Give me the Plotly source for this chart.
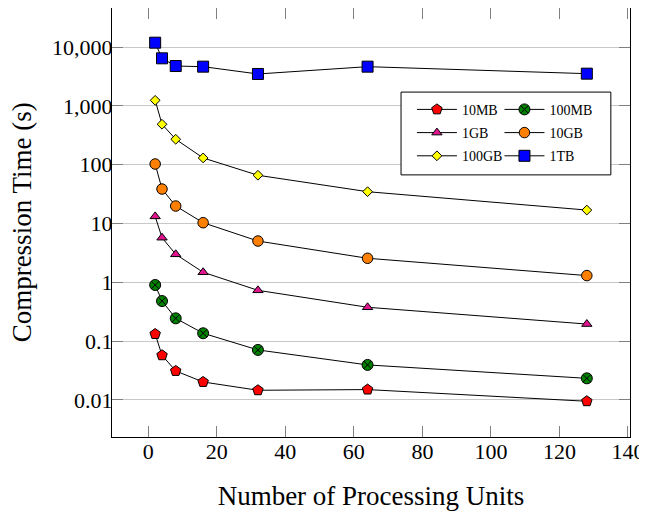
import plotly.graph_objects as go

units = [2, 4, 8, 16, 32, 64, 128]
t_10mb = [0.132, 0.0574, 0.0311, 0.0202, 0.0146, 0.0150, 0.0095]
t_100mb = [0.90, 0.48, 0.244, 0.136, 0.0708, 0.0394, 0.0233]
t_1gb = [13.2, 5.73, 2.99, 1.48, 0.73, 0.376, 0.195]
t_10gb = [102.6, 38.5, 19.8, 10.3, 5.03, 2.56, 1.30]
t_100gb = [1240, 486, 270, 130, 66, 34.7, 16.9]
t_1tb = [11840, 6420, 4750, 4630, 3480, 4630, 3520]

y_tickvals = [0.01, 0.1, 1, 10, 100, 1000, 10000]
y_ticktext = ["0.01", "0.1", "1", "10", "100", "1,000", "10,000"]
x_tickvals = [0, 20, 40, 60, 80, 100, 120, 140]

series = [
    ("10MB", t_10mb, "pentagon", "#ff0000", 11, "legend"),
    ("100MB", t_100mb, "circle-x", "#008000", 11, "legend2"),
    ("1GB", t_1gb, "triangle-up", "#e0148c", 9, "legend"),
    ("10GB", t_10gb, "circle", "#ff8000", 10.5, "legend2"),
    ("100GB", t_100gb, "diamond", "#ffff00", 7.5, "legend"),
    ("1TB", t_1tb, "square", "#0000ff", 11, "legend2"),
]

fig = go.Figure()
for name, vals, sym, col, sz, lg in series:
    fig.add_trace(go.Scatter(
        x=units, y=vals, name=name, mode="lines+markers",
        line=dict(color="black", width=1),
        marker=dict(symbol=sym, color=col, size=sz,
                    line=dict(color="black", width=1)),
        legend=lg, legendgroup=name,
    ))

font_family = "Liberation Serif, Times New Roman, serif"
leg_common = dict(
    orientation="v", yanchor="top", xanchor="left",
    bgcolor="rgba(0,0,0,0)", borderwidth=0,
    font=dict(size=14, family=font_family),
    itemwidth=40, tracegroupgap=2,
)
fig.update_layout(
    width=639, height=504,
    margin=dict(l=104, r=17, t=0, b=75),
    paper_bgcolor="white", plot_bgcolor="white",
    font=dict(family=font_family, color="black", size=22),
    showlegend=True,
    legend=dict(x=0.579, y=0.800, **leg_common),
    legend2=dict(x=0.748, y=0.800, **leg_common),
    shapes=[dict(type="rect", xref="paper", yref="paper",
                 x0=0.558, x1=0.963, y0=0.611, y1=0.804,
                 line=dict(color="black", width=1),
                 fillcolor="white", layer="above")],
    annotations=[dict(text="Compression Time (s)", xref="paper", yref="paper",
                      x=-0.174, y=0.5, xanchor="center", yanchor="middle",
                      textangle=-90, showarrow=False, font=dict(size=27))],
    xaxis=dict(
        range=[-10.6, 140.6], tickvals=x_tickvals, automargin=False,
        showline=True, linecolor="black", linewidth=1, mirror="allticks",
        ticks="inside", ticklen=11, tickcolor="#808080",
        ticklabelstandoff=-5,
        showgrid=False, zeroline=False,
        title=dict(text="Number of Processing Units", font=dict(size=27), standoff=22),
    ),
    yaxis=dict(
        type="log", range=[-2.63, 4.663], tickvals=y_tickvals, ticktext=y_ticktext,
        automargin=False,
        showline=True, linecolor="black", linewidth=1, mirror="allticks",
        ticks="inside", ticklen=11, tickcolor="#808080",
        ticklabelstandoff=-6,
        showgrid=True, gridcolor="#c8c8c8", gridwidth=1, zeroline=False,
    ),
)

fig.write_html("out.html")
